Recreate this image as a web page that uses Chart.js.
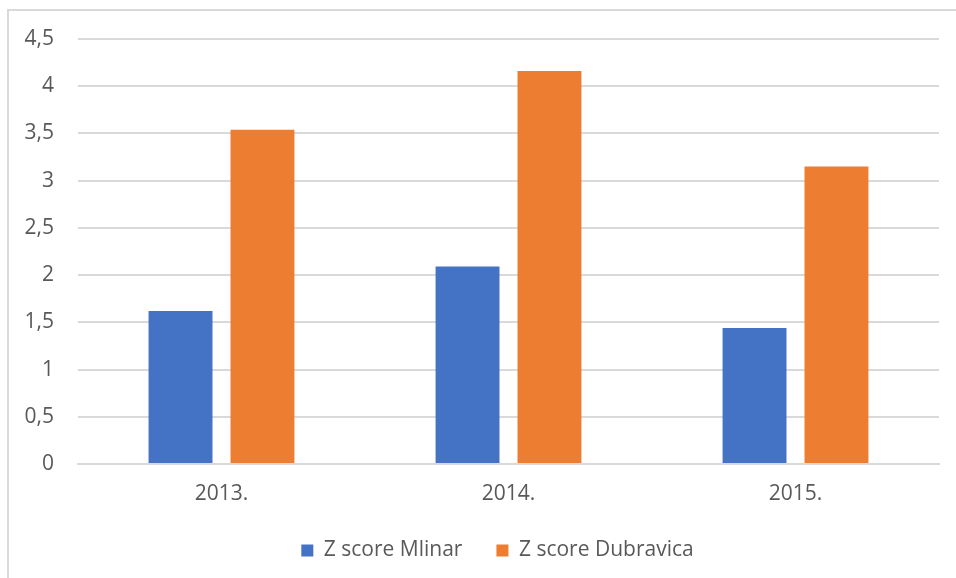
<!DOCTYPE html>
<html>
<head>
    <title>Z score</title>
    <script src="https://cdn.jsdelivr.net/npm/chart.js"></script>
    <style>
        body { margin: 0; background: #fff; }
        .wrap { position: relative; width: 956px; height: 578px; overflow: hidden; }
        .frame {
            position: absolute; left: 7px; top: 9px; width: 1000px; height: 1000px;
            border: 2px solid #d9d9d9; pointer-events: none;
        }
    </style>
</head>
<body>
    <div class="wrap">
        <canvas id="zChart" width="956" height="578"></canvas>
        <div class="frame"></div>
    </div>
    <script>
        // podaci
        const years = ['2013.', '2014.', '2015.'];
        const mlinar = [1.62, 2.09, 1.44];
        const dubravica = [3.54, 4.16, 3.15];

        const font = { family: 'Open Sans', size: 21 };

        // legenda je malo desno od sredine
        const legendShift = {
            id: 'legendShift',
            afterLayout(chart) {
                chart.legend.left += 28;
                chart.legend.right += 28;
                chart.legend.top += 2;
                chart.legend.bottom += 2;
            }
        };

        const ctx = document.getElementById('zChart').getContext('2d');
        new Chart(ctx, {
            type: 'bar',
            data: {
                labels: years,
                datasets: [
                    {
                        label: 'Z score Mlinar',
                        data: mlinar,
                        backgroundColor: '#4472C4',
                        barPercentage: 0.78,
                        categoryPercentage: 0.571
                    },
                    {
                        label: 'Z score Dubravica',
                        data: dubravica,
                        backgroundColor: '#ED7D31',
                        barPercentage: 0.78,
                        categoryPercentage: 0.571
                    }
                ]
            },
            options: {
                responsive: false,
                animation: false,
                layout: { padding: { top: 39, right: 17, bottom: 9, left: 0 } },
                plugins: {
                    tooltip: { enabled: false },
                    legend: {
                        position: 'bottom',
                        labels: {
                            color: '#595959',
                            font: font,
                            boxWidth: 12,
                            boxHeight: 12,
                            padding: 34
                        }
                    }
                },
                scales: {
                    x: {
                        grid: { display: false, drawTicks: false },
                        border: { display: true, color: '#d9d9d9', width: 2 },
                        ticks: { color: '#595959', font: font, padding: 17 },
                        afterFit: s => { s.height = 40; }
                    },
                    y: {
                        min: 0,
                        max: 4.5,
                        grid: { color: '#d9d9d9', lineWidth: 2, drawTicks: false },
                        border: { display: false },
                        ticks: {
                            stepSize: 0.5,
                            color: '#595959',
                            font: font,
                            padding: 24,
                            callback: v => String(v).replace('.', ',')
                        },
                        afterFit: s => { s.width = 78; }
                    }
                }
            },
            plugins: [legendShift]
        });
    </script>
</body>
</html>
